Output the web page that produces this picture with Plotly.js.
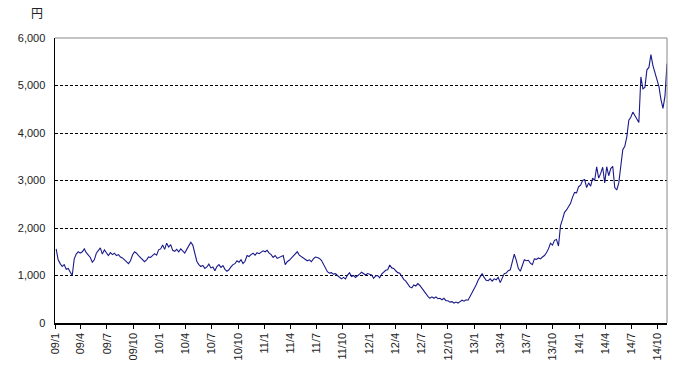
<!DOCTYPE html>
<html>
<head>
<meta charset="utf-8">
<script src="https://cdn.plot.ly/plotly-3.0.1.min.js"></script>
<style>html,body{margin:0;padding:0;background:#fff;}#chart{width:690px;height:370px;}</style>
</head>
<body>
<div id="chart"></div>
<script>
// Weekly closing prices (yen)
var startDate = '2009-01-05';
var y2009 = [1560,1330,1250,1190,1230,1130,1150,1080,1000,1350,1450,1500,1470,
             1500,1560,1480,1440,1380,1280,1330,1470,1520,1580,1450,1540,1480,
             1420,1480,1440,1470,1420,1440,1390,1370,1330,1300,1250,1310,1430,
             1500,1470,1420,1380,1350,1290,1330,1390,1380,1420,1460,1430,1540];
var y2010 = [1560,1640,1550,1680,1600,1650,1530,1510,1550,1500,1560,1520,1470,
             1550,1620,1700,1640,1460,1300,1230,1190,1210,1150,1180,1240,1160,
             1180,1100,1190,1230,1170,1210,1130,1090,1120,1180,1230,1250,1310,
             1280,1330,1250,1300,1420,1400,1440,1470,1430,1480,1460,1500,1520];
var y2011 = [1500,1530,1470,1440,1380,1420,1360,1380,1400,1420,1230,1290,1320,
             1360,1400,1450,1500,1430,1400,1370,1340,1310,1330,1290,1350,1390,
             1380,1360,1320,1240,1130,1080,1050,1060,1030,1040,1000,970,930,
             960,930,1010,1060,980,1000,960,990,1030,1070,1040,1010,1040];
var y2012 = [1030,1010,940,990,1000,950,1030,1070,1110,1120,1220,1160,1150,
             1100,1060,1050,980,920,880,820,760,740,800,780,830,790,
             740,680,620,560,520,550,520,550,510,520,490,520,470,
             470,440,450,420,440,420,450,480,460,490,480,560,650];
var y2013 = [700,
             800,900,960,1040,960,900,890,930,880,930,910,960,850,
             960,1040,1050,1100,1120,1280,1450,1320,1150,1090,1230,1330,1310,
             1320,1260,1230,1350,1340,1370,1350,1390,1420,1480,1560,1680,1640,
             1740,1760,1620,2050,2180,2330,2380,2460,2520,2650,2750,2740];
var y2014 = [2870,
             2900,3000,3020,2850,2950,2880,3050,3000,3290,3050,
             3150,3280,2950,3290,3100,3250,3300,2850,2800,2950,
             3300,3650,3720,3920,4270,4330,4440,4360,4270,4220,
             5180,4930,4960,5330,5380,5650,5420,5260,5110,4975,
             4700,4520,4780,5460];

var tickDates = ['2009-01-01','2009-04-01','2009-07-01','2009-10-01',
                 '2010-01-01','2010-04-01','2010-07-01','2010-10-01',
                 '2011-01-01','2011-04-01','2011-07-01','2011-10-01',
                 '2012-01-01','2012-04-01','2012-07-01','2012-10-01',
                 '2013-01-01','2013-04-01','2013-07-01','2013-10-01',
                 '2014-01-01','2014-04-01','2014-07-01','2014-10-01'];
var tickLabels = ['09/1','09/4','09/7','09/10','10/1','10/4','10/7','10/10',
                  '11/1','11/4','11/7','11/10','12/1','12/4','12/7','12/10',
                  '13/1','13/4','13/7','13/10','14/1','14/4','14/7','14/10'];
var yTicks = [0,1000,2000,3000,4000,5000,6000];
var unitLabel = '円';

var values = [].concat(y2009, y2010, y2011, y2012, y2013, y2014);
var dates = [];
var d0 = new Date(startDate + 'T00:00:00Z');
for (var i = 0; i < values.length; i++) {
  var d = new Date(d0.getTime() + i * 7 * 86400000);
  dates.push(d.toISOString().slice(0,10));
}

var trace = {
  x: dates, y: values, type: 'scatter', mode: 'lines',
  line: {color: '#1a1a8a', width: 1.1},
  hoverinfo: 'skip'
};

var font = {family: '"Liberation Sans", Arial, sans-serif', size: 11, color: '#222'};

var layout = {
  width: 690, height: 370,
  margin: {l: 55, r: 23, t: 38, b: 47},
  paper_bgcolor: '#fff', plot_bgcolor: '#fff',
  showlegend: false,
  font: font,
  xaxis: {
    type: 'date',
    range: ['2009-01-01', '2014-11-03'],
    tickmode: 'array', tickvals: tickDates, ticktext: tickLabels,
    tickangle: -90,
    ticks: 'outside', ticklen: 4, tickcolor: '#000', tickwidth: 1,
    showline: true, linecolor: '#000', linewidth: 1.5,
    showgrid: false, zeroline: false,
    tickfont: font
  },
  yaxis: {
    range: [0, 6000],
    tickmode: 'array', tickvals: yTicks, tickformat: ',d',
    ticks: '', ticklabelstandoff: 6,
    showline: true, linecolor: '#000', linewidth: 1.5,
    showgrid: true, gridcolor: '#000', gridwidth: 1, griddash: '3px,2px',
    zeroline: false,
    tickfont: font
  },
  shapes: [
    {type: 'line', xref: 'paper', yref: 'paper', x0: 0, x1: 1, y0: 1, y1: 1,
     line: {color: '#888', width: 1}, layer: 'above'},
    {type: 'line', xref: 'paper', yref: 'paper', x0: 1, x1: 1, y0: 0, y1: 1,
     line: {color: '#888', width: 1}, layer: 'above'}
  ],
  annotations: [
    {text: unitLabel, xref: 'paper', yref: 'paper', x: -0.03, y: 1.09,
     xanchor: 'center', yanchor: 'middle', showarrow: false,
     font: {family: '"Noto Sans CJK JP", sans-serif', size: 12, color: '#222'}}
  ]
};

Plotly.newPlot('chart', [trace], layout, {staticPlot: true, displayModeBar: false});
</script>
</body>
</html>
